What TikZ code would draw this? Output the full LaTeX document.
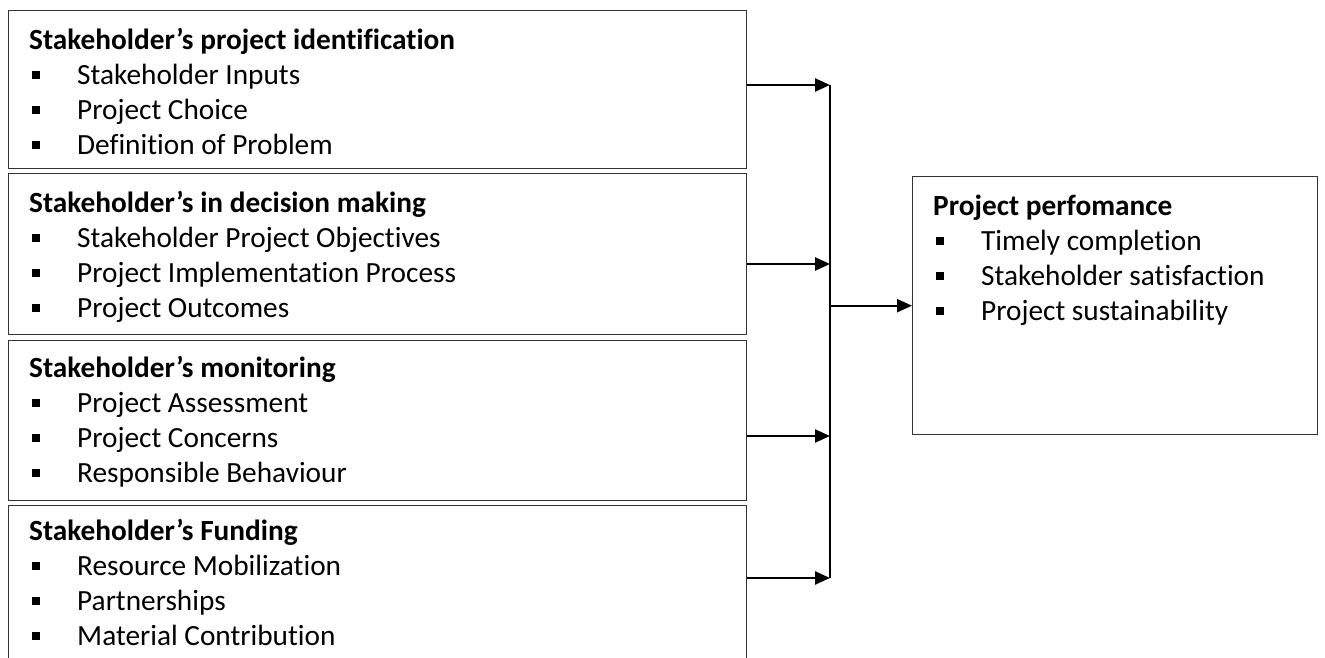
\documentclass[tikz,border=0pt]{standalone}
\usepackage{fontspec}
\setmainfont{Carlito}[Ligatures=NoCommon]
\usetikzlibrary{arrows.meta,positioning}

\tikzset{
  frame/.style={draw=black!80, line width=1.4pt, anchor=north west, inner sep=0pt},
  list/.style={anchor=north west, inner sep=0pt, align=left,
    font=\fontsize{29.3}{35}\selectfont},
  feed/.style={line width=2.4pt, -{Triangle[length=15pt,width=13pt]}},
}
\newcommand{\itm}{\hspace*{3pt}\rule[5.5pt]{8pt}{8pt}\hspace*{37pt}}
\newcommand{\hd}[1]{\rule{0pt}{22pt}\textbf{#1}}

\begin{document}
\begin{tikzpicture}[x=1pt, y=-1pt]
  \useasboundingbox (0,0) rectangle (1325,658);

  % left boxes
  \node[frame, minimum width=738pt, minimum height=158pt] (b1) at (8,10) {};
  \node[frame, minimum width=738pt, minimum height=161pt] (b2) at (8,173) {};
  \node[frame, minimum width=738pt, minimum height=160pt] (b3) at (8,340) {};
  \node[frame, minimum width=738pt, minimum height=175pt] (b4) at (8,505) {};

  \node[list] (t1) at ([xshift=21pt,yshift=-17pt]b1.north west)
    {\hd{Stakeholder’s project identification}\\
     \itm Stakeholder Inputs\\ \itm Project Choice\\ \itm Definition of Problem};
  \node[list] (t2) at ([xshift=21pt,yshift=-17pt]b2.north west)
    {\hd{Stakeholder’s in decision making}\\
     \itm Stakeholder Project Objectives\\ \itm Project Implementation Process\\
     \itm Project Outcomes};
  \node[list] (t3) at ([xshift=21pt,yshift=-15pt]b3.north west)
    {\hd{Stakeholder’s monitoring}\\
     \itm Project Assessment\\ \itm Project Concerns\\ \itm Responsible Behaviour};
  \node[list] (t4) at ([xshift=21pt,yshift=-13pt]b4.north west)
    {\hd{Stakeholder’s Funding}\\
     \itm Resource Mobilization\\ \itm Partnerships\\ \itm Material Contribution};

  % outcome box
  \node[frame, minimum width=405pt, minimum height=258pt] (perf) at (912,176) {};
  \node[list] (tp) at ([xshift=21pt,yshift=-17pt]perf.north west)
    {\hd{Project perfomance}\\
     \itm Timely completion\\ \itm Stakeholder satisfaction\\ \itm Project sustainability};

  % connectors
  \coordinate (j1) at (830,85);
  \coordinate (j2) at (830,264);
  \coordinate (j3) at (830,436);
  \coordinate (j4) at (830,578);
  \draw[feed] (b1.east |- j1) -- (j1);
  \draw[feed] (b2.east |- j2) -- (j2);
  \draw[feed] (b3.east |- j3) -- (j3);
  \draw[feed] (b4.east |- j4) -- (j4);
  \draw[line width=1.6pt] (j1) -- (j4);
  \draw[feed] (j1 |- perf.west) -- (perf.west);
\end{tikzpicture}
\end{document}
